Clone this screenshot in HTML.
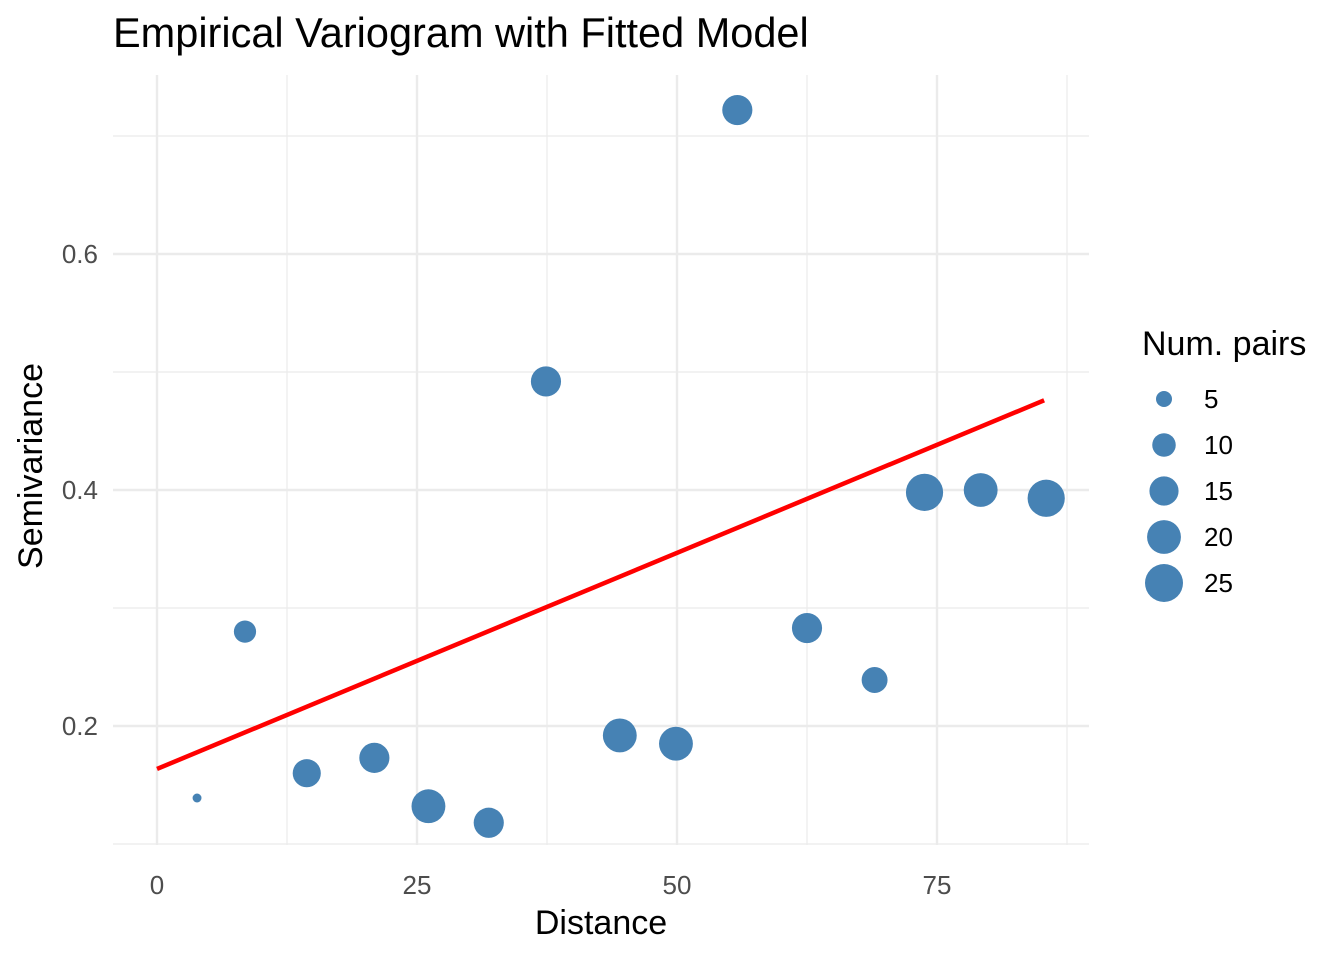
<!DOCTYPE html>
<html><head><meta charset="utf-8"><style>
body{margin:0;background:#fff;font-family:"Liberation Sans",Arial,sans-serif}
</style></head><body>
<svg id="chart" width="1344" height="960" xmlns="http://www.w3.org/2000/svg" font-family="Liberation Sans, Arial, sans-serif"></svg>
<script>
const distances=[3.85,8.46,14.4,20.9,26.1,31.9,37.4,44.5,49.9,55.8,62.5,69.0,73.8,79.2,85.5];
const semivariance=[0.139,0.280,0.160,0.173,0.132,0.118,0.492,0.192,0.185,0.722,0.283,0.239,0.398,0.400,0.393];
const numPairs=[2,9,14,16,20,16,16,20,20,16,16,12,24,20,24];
const fitX=[0,85.3];
const fitY=[0.1636,0.476];
const xTicks=[0,25,50,75];
const xMinor=[12.5,37.5,62.5,87.5];
const yTicks=[0.2,0.4,0.6];
const yMinor=[0.1,0.3,0.5,0.7];
const legendValues=[5,10,15,20,25];

const NS="http://www.w3.org/2000/svg";
const svg=document.getElementById('chart');
const X=v=>157+v*10.4;
const Y=v=>726-(v-0.2)*1180;
const R=n=>Math.sqrt(Math.max(20,64+(n-5)*14.85));
const P={l:113,r:1089,t:75,b:845};
function add(tag,attrs,txt){const e=document.createElementNS(NS,tag);for(const k in attrs)e.setAttribute(k,attrs[k]);if(txt!==undefined)e.textContent=txt;svg.appendChild(e);return e;}

xMinor.forEach(v=>{const e=add('line',{x1:X(v),x2:X(v),y1:P.t,y2:P.b,stroke:'#ebebeb','stroke-width':1.2});

});
yMinor.forEach(v=>{const e=add('line',{x1:P.l,x2:P.r,y1:Y(v),y2:Y(v),stroke:'#ebebeb','stroke-width':1.2});

});
xTicks.forEach(v=>{const e=add('line',{x1:X(v),x2:X(v),y1:P.t,y2:P.b,stroke:'#ebebeb','stroke-width':2.4});


const t=add('text',{x:X(v),y:894,'text-anchor':'middle','font-size':26,fill:'#4d4d4d'},String(v));

});
yTicks.forEach(v=>{const e=add('line',{x1:P.l,x2:P.r,y1:Y(v),y2:Y(v),stroke:'#ebebeb','stroke-width':2.4});


const t=add('text',{x:98,y:Y(v)+9,'text-anchor':'end','font-size':26,fill:'#4d4d4d'},v.toFixed(1));

});

distances.forEach((d,i)=>{const c=add('circle',{cx:X(d),cy:Y(semivariance[i]),r:R(numPairs[i]),fill:'#4682b4'});

});

const fl=add('line',{x1:X(fitX[0]),y1:Y(fitY[0]),x2:X(fitX[1]),y2:Y(fitY[1]),stroke:'#ff0000','stroke-width':4.5});



let t=add('text',{x:113,y:47,'font-size':41.5,fill:'#000'},'Empirical Variogram with Fitted Model');


t=add('text',{x:601,y:934,'text-anchor':'middle','font-size':34,fill:'#000'},'Distance');


t=add('text',{x:0,y:0,'text-anchor':'middle','font-size':34,fill:'#000',transform:'translate(42,466) rotate(-90)'},'Semivariance');


t=add('text',{x:1142,y:355,'font-size':34,fill:'#000'},'Num. pairs');


legendValues.forEach((v,i)=>{const cy=399+i*46;
const c=add('circle',{cx:1164,cy:cy,r:R(v),fill:'#4682b4'});


const l=add('text',{x:1204,y:cy+9,'font-size':26,fill:'#000'},String(v));

});
</script>
</body></html>
